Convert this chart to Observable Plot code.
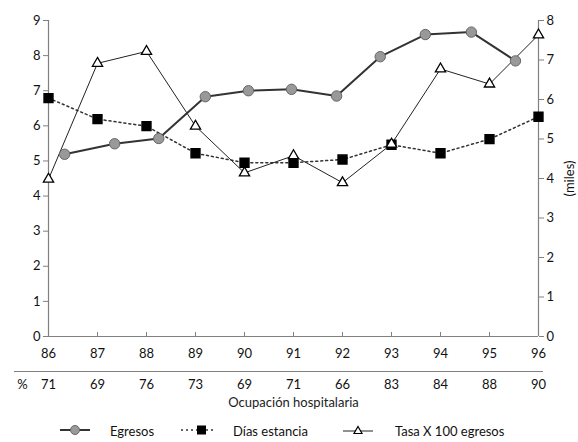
<!DOCTYPE html>
<html>
<head>
<meta charset="utf-8">
<script src="https://cdn.jsdelivr.net/npm/d3@7"></script>
<script src="https://cdn.jsdelivr.net/npm/@observablehq/plot@0.6"></script>
<style>
  body { margin: 0; background: #fff; font-family: Lato, "Open Sans", sans-serif; color: #111; }
  #legend { position: relative; width: 578px; height: 24px; font-size: 13px; }
  #legend .sym { position: absolute; top: 3px; }
  #legend .lab { position: absolute; top: 6px; line-height: 14px; }
</style>
</head>
<body>
<div id="chart"></div>
<div id="legend"></div>
<script>
// ---- data ----
const years = [86, 87, 88, 89, 90, 91, 92, 93, 94, 95, 96];
const occupancy = [71, 69, 76, 73, 69, 71, 66, 83, 84, 88, 90];
// Egresos points are drawn between the year ticks in the original
const egresosX = [86.33, 87.35, 88.25, 89.2, 90.08, 90.96, 91.88, 92.77, 93.69, 94.63, 95.53];
const egresos = [5.19, 5.49, 5.64, 6.83, 7.0, 7.04, 6.85, 7.97, 8.6, 8.67, 7.85];
const dias = [6.79, 6.19, 5.99, 5.22, 4.95, 4.95, 5.04, 5.46, 5.22, 5.62, 6.26];
const tasa = [4.48, 7.78, 8.12, 5.99, 4.66, 5.15, 4.38, 5.48, 7.62, 7.19, 8.59];
const leftTicks = [0, 1, 2, 3, 4, 5, 6, 7, 8, 9];
const rightTicks = [0, 1, 2, 3, 4, 5, 6, 7, 8];
const xLabel = "Ocupación hospitalaria";
const rightLabel = "(miles)";
const percentSign = ["%"];
const percentX = [85.47];
const seriesNames = ["Egresos", "Días estancia", "Tasa X 100 egresos"];

const egresosData = egresosX.map((x, i) => ({x, y: egresos[i]}));
const diasData = years.map((x, i) => ({x, y: dias[i]}));
const tasaData = years.map((x, i) => ({x, y: tasa[i]}));
const occData = years.map((x, i) => ({x, t: String(occupancy[i])}));
const rightScale = 9 / 8;

const axisColor = "#808080";

const chart = Plot.plot({
  width: 578,
  height: 418,
  marginTop: 20,
  marginLeft: 48,
  marginRight: 40,
  marginBottom: 82,
  style: { fontFamily: "Lato, 'Open Sans', sans-serif", fontSize: "13px", color: "#111", background: "#fff" },
  x: { domain: [86, 96] },
  y: { domain: [0, 9] },
  marks: [
    Plot.ruleX([86], { stroke: axisColor, strokeWidth: 1.2 }),
    Plot.ruleX([96], { stroke: axisColor, strokeWidth: 1.2 }),
    Plot.ruleY([0], { stroke: axisColor, strokeWidth: 1.2 }),
    Plot.axisY(leftTicks, { anchor: "left", tickSize: 5, tickPadding: 3, stroke: axisColor, fill: "#111", label: null, tickFormat: d => String(d) }),
    Plot.axisY(rightTicks.map(v => v * rightScale), {
      anchor: "right", tickSize: 5, tickPadding: 3, stroke: axisColor, fill: "#111",
      tickFormat: d => String(Math.round(d / rightScale)),
      label: rightLabel, labelAnchor: "center", labelArrow: "none", labelOffset: 35
    }),
    Plot.axisX(years, { anchor: "bottom", tickSize: 4, dy: -4, stroke: axisColor, tickFormat: () => "", label: null }),
    Plot.axisX(years, { anchor: "bottom", tickSize: 0, tickPadding: 12, fill: "#111", tickFormat: d => String(d), label: null }),
    Plot.ruleY([0], { dy: 35, insetLeft: -34, insetRight: -5, stroke: axisColor, strokeWidth: 1.2 }),
    Plot.text(occData, { x: "x", text: "t", frameAnchor: "bottom", dy: 52, fill: "#111" }),
    Plot.text(percentSign, { x: percentX, text: d => d, frameAnchor: "bottom", dy: 52, fill: "#111" }),
    Plot.text([xLabel], { text: d => d, frameAnchor: "bottom", dy: 70, fill: "#222" }),
    // series
    Plot.line(diasData, { x: "x", y: "y", stroke: "#333", strokeWidth: 1.5, strokeDasharray: "2,3" }),
    Plot.line(tasaData, { x: "x", y: "y", stroke: "#222", strokeWidth: 1 }),
    Plot.line(egresosData, { x: "x", y: "y", stroke: "#333", strokeWidth: 2 }),
    Plot.dot(diasData, { x: "x", y: "y", symbol: "square", r: 5, fill: "#000", stroke: "#000" }),
    Plot.dot(tasaData, { x: "x", y: "y", symbol: "triangle", r: 3.8, fill: "#fff", stroke: "#000", strokeWidth: 1.3 }),
    Plot.dot(egresosData, { x: "x", y: "y", symbol: "circle", r: 5.2, fill: "#999", stroke: "#666", strokeWidth: 1 })
  ]
});
document.getElementById("chart").appendChild(chart);

// ---- legend ----
const legend = d3.select("#legend");
const symW = 36, symH = 18;
function addItem(symLeft, labLeft, name, draw) {
  const s = legend.append("svg").attr("class", "sym").attr("width", symW).attr("height", symH).style("left", symLeft + "px");
  draw(s);
  legend.append("span").attr("class", "lab").style("left", labLeft + "px").text(name);
}
addItem(58, 110, seriesNames[0], s => {
  s.append("line").attr("x1", 2).attr("x2", 32).attr("y1", 9).attr("y2", 9).attr("stroke", "#333").attr("stroke-width", 2);
  s.append("circle").attr("cx", 17).attr("cy", 9).attr("r", 4.5).attr("fill", "#999").attr("stroke", "#666");
});
addItem(180, 233, seriesNames[1], s => {
  s.append("line").attr("x1", 1).attr("x2", 35).attr("y1", 9).attr("y2", 9).attr("stroke", "#333").attr("stroke-width", 1.5).attr("stroke-dasharray", "2,3");
  s.append("rect").attr("x", 17).attr("y", 4.5).attr("width", 9).attr("height", 9).attr("fill", "#000");
});
addItem(340, 395, seriesNames[2], s => {
  s.append("line").attr("x1", 3).attr("x2", 33).attr("y1", 10).attr("y2", 10).attr("stroke", "#222").attr("stroke-width", 1);
  s.append("path").attr("d", "M18,5.5L22,12.5L14,12.5Z").attr("fill", "#fff").attr("stroke", "#000").attr("stroke-width", 1.2);
});
</script>
</body>
</html>
